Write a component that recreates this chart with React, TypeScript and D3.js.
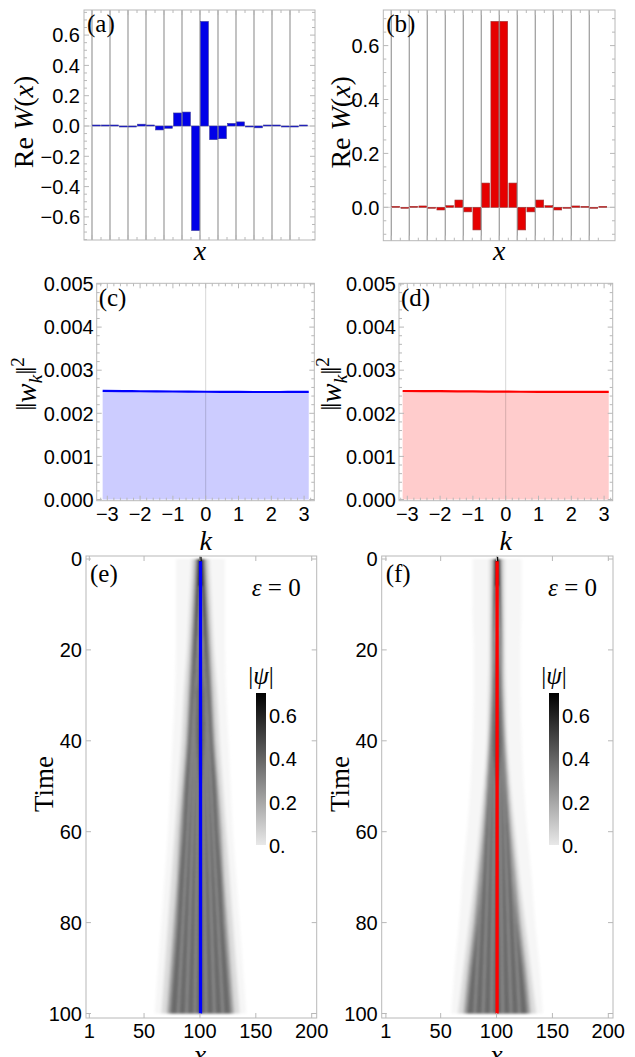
import React from 'react';
import * as d3 from 'd3';

const W = 635, H = 1057;

// (a),(b) Wannier function, one bar per site, first bar index = barStart (two sites per cell)
const barStart = -12;
const wannierA = [0, 0.001, 0.002, -0.005, -0.004, 0.012, 0.006, -0.026, -0.015, 0.086, 0.092, -0.69,
  0.69, -0.09, -0.084, 0.017, 0.027, -0.006, -0.012, 0.004, 0.005, -0.002, -0.003, 0.001];
const wannierB = [0, -0.001, 0.001, 0.005, -0.001, -0.01, 0.006, 0.027, -0.017, -0.084, 0.09, 0.69,
  0.69, 0.09, -0.084, -0.017, 0.027, 0.006, -0.01, -0.001, 0.005, 0.001, -0.001, 0];
const cellLines = [-12, -10, -8, -6, -4, -2, 0, 2, 4, 6, 8, 10];

// (c),(d) ||w_k||^2 over the Brillouin zone
const kSamples = [-3.1416, -2.5, -2, -1, 0, 1, 2, 2.5, 3.1416];
const normC = [0.002518, 0.002515, 0.002512, 0.002506, 0.0025, 0.002496, 0.002494, 0.002495, 0.002498];
const normD = [0.002517, 0.002516, 0.002514, 0.002508, 0.002502, 0.002498, 0.002496, 0.002496, 0.002498];

// (e),(f) |psi| spreading: half widths (in sites) of the grey bands at these times
const heatTimes = [0, 10, 20, 30, 40, 50, 60, 70, 80, 90, 100];
const hazeE = [22, 22, 22, 23, 25, 27, 29, 32, 35, 38, 41];
const lightE = [8, 10, 12, 15, 17, 20, 23, 26, 29, 32, 35];
const midE = [5, 7, 9, 11, 13, 16, 19, 21, 24, 27, 30];
const coreE = [3, 5, 7, 9, 11, 14, 16, 19, 21, 24, 27];
const hazeF = [22, 22, 21, 21, 22, 24, 27, 31, 34, 38, 41];
const lightF = [7, 7, 7, 8, 9, 12, 16, 20, 25, 30, 35];
const midF = [4, 4.5, 5, 5.5, 7, 10, 13, 17, 21, 26, 30];
const coreF = [3, 3.5, 4, 4.5, 6, 8, 11, 14, 18, 23, 27];
const innerTimes = [0, 10, 20, 30, 40, 50];
const innerE = [2.6, 3.4, 4.2, 4.6, 3.6, 0];
const innerF = [2.6, 3.0, 3.4, 3.8, 3.8, 0];
const rayOffsets = [-20, -12.5, -5, 5, 12.5, 20];
const centerSite = 100.5;
const psiMax = 0.7;
const colorTicks = [0, 0.2, 0.4, 0.6];

const tickFont = "'Liberation Sans', Arial, sans-serif";
const serif = "'Liberation Serif', 'Times New Roman', serif";
const frameCol = '#b8b8b8';
const tickSize = 20;

type Fr = { l: number; r: number; t: number; b: number };
const fA: Fr = { l: 84, r: 315, t: 10, b: 240 };
const fB: Fr = { l: 383.3, r: 615, t: 10, b: 240.7 };
const fC: Fr = { l: 96.7, r: 314.3, t: 283.3, b: 500.7 };
const fD: Fr = { l: 399, r: 612.7, t: 283.3, b: 500.7 };
const fE: Fr = { l: 86, r: 316.7, t: 556, b: 1018 };
const fF: Fr = { l: 381.7, r: 613, t: 556, b: 1018 };

const fmtMinus = (s: string) => s.replace('-', '\u2212');

function Ticks({ f, xs, ys, xMinor = [], yMinor = [] }: any) {
  const out: any[] = [];
  const M = 5, m = 3;
  xs.forEach((x: number, i: number) => {
    out.push(<line key={'xb' + i} x1={x} x2={x} y1={f.b} y2={f.b - M} />);
    out.push(<line key={'xt' + i} x1={x} x2={x} y1={f.t} y2={f.t + M} />);
  });
  xMinor.forEach((x: number, i: number) => {
    out.push(<line key={'xmb' + i} x1={x} x2={x} y1={f.b} y2={f.b - m} />);
    out.push(<line key={'xmt' + i} x1={x} x2={x} y1={f.t} y2={f.t + m} />);
  });
  ys.forEach((y: number, i: number) => {
    out.push(<line key={'yl' + i} x1={f.l} x2={f.l + M} y1={y} y2={y} />);
    out.push(<line key={'yr' + i} x1={f.r} x2={f.r - M} y1={y} y2={y} />);
  });
  yMinor.forEach((y: number, i: number) => {
    out.push(<line key={'yml' + i} x1={f.l} x2={f.l + m} y1={y} y2={y} />);
    out.push(<line key={'ymr' + i} x1={f.r} x2={f.r - m} y1={y} y2={y} />);
  });
  return (
    <g stroke={frameCol} strokeWidth={1}>
      {out}
      <rect x={f.l} y={f.t} width={f.r - f.l} height={f.b - f.t} fill="none" />
    </g>
  );
}

function BarPanel({ f, zeroX, zeroY, unitY, data, color, edge, yMajor, label, ylabX }: any) {
  const x = d3.scaleLinear().domain([0, 1]).range([zeroX, zeroX + 9]);
  const y = d3.scaleLinear().domain([0, 1]).range([zeroY, zeroY - unitY]);
  const [lo, hi] = [y.invert(f.b), y.invert(f.t)];
  const minor = d3.range(Math.ceil(lo / 0.05) * 0.05, hi, 0.05).filter((v) => Math.abs(Math.round(v / 0.2) * 0.2 - v) > 1e-6);
  const xMinor = d3.range(-13, 13).filter((v) => v % 2 !== 0).map(x).filter((p) => p > f.l && p < f.r);
  return (
    <g>
      {cellLines.map((c) => (
        <line key={c} x1={x(c)} x2={x(c)} y1={f.t} y2={f.b} stroke="#a2a2a2" strokeWidth={1.3} />
      ))}
      <line x1={f.l} x2={f.r} y1={y(0)} y2={y(0)} stroke="#d2d2d2" strokeWidth={1} />
      {data.map((v: number, i: number) => {
        const j = barStart + i;
        const x0 = x(j) + 0.6, x1 = x(j + 1) - 0.6;
        const h = Math.max(Math.abs(y(v) - y(0)), 1);
        return (
          <rect key={i} x={x0} width={x1 - x0} y={v >= 0 ? y(0) - h : y(0)} height={h}
            fill={color} stroke={edge} strokeWidth={0.6} />
        );
      })}
      <Ticks f={f} xs={cellLines.map(x)} ys={yMajor.map(y)} xMinor={xMinor} yMinor={minor.map(y)} />
      {yMajor.map((v: number) => (
        <text key={v} x={f.l - 4} y={y(v)} dy="0.36em" textAnchor="end" fontFamily={tickFont} fontSize={tickSize}>
          {fmtMinus(v.toFixed(1))}
        </text>
      ))}
      <text x={f.l + 3} y={f.t + 22} fontFamily={serif} fontSize={25}>{label}</text>
      <text transform={`translate(${ylabX},${(f.t + f.b) / 2 - 3}) rotate(-90)`} textAnchor="middle" fontFamily={serif} fontSize={28}>
        Re <tspan fontStyle="italic">W</tspan>(<tspan fontStyle="italic">x</tspan>)
      </text>
      <text x={zeroX} y={260} textAnchor="middle" fontFamily={serif} fontStyle="italic" fontSize={28}>x</text>
    </g>
  );
}

function NormPanel({ f, zeroX, data, line, fill, label, ylabX }: any) {
  const x = d3.scaleLinear().domain([0, 1]).range([zeroX, zeroX + 32.8]);
  const y = d3.scaleLinear().domain([0, 0.005]).range([499.5, 284]);
  const area = d3.area<number>().x((_, i) => x(kSamples[i])).y0(y(0)).y1((d) => y(d)).curve(d3.curveMonotoneX);
  const ln = d3.line<number>().x((_, i) => x(kSamples[i])).y((d) => y(d)).curve(d3.curveMonotoneX);
  const yMajor = d3.range(0, 0.0051, 0.001);
  const yMinor = d3.range(0, 0.005, 0.0002).filter((_, i) => i % 5 !== 0);
  const xMajor = d3.range(-3, 4, 1);
  const xMinor = d3.range(-3.2, 3.3, 0.2).filter((v) => Math.abs(v - Math.round(v)) > 1e-6);
  return (
    <g>
      <path d={area(data) || ''} fill={fill} />
      <line x1={x(0)} x2={x(0)} y1={f.t} y2={f.b} stroke="#000" strokeOpacity={0.16} strokeWidth={1} />
      <path d={ln(data) || ''} fill="none" stroke={line} strokeWidth={2.2} />
      <Ticks f={f} xs={xMajor.map(x)} ys={yMajor.map(y)} xMinor={xMinor.map(x)} yMinor={yMinor.map(y)} />
      {yMajor.map((v) => (
        <text key={v} x={f.l - 3} y={y(v)} dy="0.36em" textAnchor="end" fontFamily={tickFont} fontSize={tickSize}>
          {v.toFixed(3)}
        </text>
      ))}
      {xMajor.map((v) => (
        <text key={v} x={x(v)} y={f.b + 20} textAnchor="middle" fontFamily={tickFont} fontSize={tickSize}>
          {fmtMinus(String(v))}
        </text>
      ))}
      <text x={f.l + 2} y={f.t + 23} fontFamily={serif} fontSize={25}>{label}</text>
      <text transform={`translate(${ylabX},384) rotate(-90)`} textAnchor="middle" fontFamily={serif} fontSize={29}>
        {'\u2016'}<tspan fontStyle="italic">w</tspan><tspan fontStyle="italic" fontSize={19} dy={6}>k</tspan>
        <tspan dy={-6}>{'\u2016'}</tspan><tspan fontSize={19} dy={-12}>2</tspan>
      </text>
      <text x={x(0)} y={550} textAnchor="middle" fontFamily={serif} fontStyle="italic" fontSize={28}>k</text>
    </g>
  );
}

function HeatPanel({ f, x1px, layers, inner, lineColor, label, id, barX }: any) {
  const x = d3.scaleLinear().domain([1, 200]).range([x1px, x1px + 222.4]);
  const y = d3.scaleLinear().domain([0, 100]).range([559, 1013.5]);
  const band = (hw: number[], times: number[]) =>
    d3.area<number>().y((_, i) => y(times[i])).x0((d) => x(centerSite - d)).x1((d) => x(centerSite + d)).curve(d3.curveMonotoneY)(hw) || '';
  const grey = d3.scaleLinear<string>().domain([0, psiMax]).range(['#ffffff', '#000000']);
  const cb = d3.scaleLinear().domain([0, psiMax]).range([845, 693]);
  const yMajor = [0, 20, 40, 60, 80, 100];
  const xMajor = [1, 50, 100, 150, 200];
  return (
    <g>
      <defs>
        <clipPath id={'clip' + id}><rect x={f.l} y={f.t} width={f.r - f.l} height={f.b - f.t} /></clipPath>
        <filter id={'blur' + id} x="-20%" y="-5%" width="140%" height="110%">
          <feGaussianBlur stdDeviation="1.6 0.8" />
        </filter>
        <linearGradient id={'cb' + id} x1="0" y1="1" x2="0" y2="0">
          <stop offset="0" stopColor="#e8e8e8" />
          <stop offset="1" stopColor="#000" />
        </linearGradient>
      </defs>
      <g clipPath={`url(#clip${id})`}>
        <g filter={`url(#blur${id})`}>
          <path d={band(layers[0], heatTimes)} fill={grey(0.025)} />
          <path d={band(layers[1], heatTimes)} fill={grey(0.1)} />
          <path d={band(layers[2], heatTimes)} fill={grey(0.26)} />
          <path d={band(layers[3], heatTimes)} fill={grey(0.41)} />
          <path d={band(inner, innerTimes)} fill={grey(0.55)} />
          {rayOffsets.map((o) => (
            <line key={o} x1={x(centerSite)} y1={y(6)} x2={x(centerSite + o)} y2={y(100)}
              stroke={grey(0.2)} strokeWidth={1.3} strokeOpacity={0.75} />
          ))}
        </g>
        <rect x={x(99.5)} width={x(101.5) - x(99.5)} y={y(-0.5)} height={y(1) - y(-0.5)} fill={grey(psiMax)} />
        <line x1={x(centerSite)} x2={x(centerSite)} y1={y(0.5)} y2={y(100)} stroke={lineColor} strokeWidth={3.3} />
      </g>
      <Ticks f={f} xs={xMajor.map(x)} ys={yMajor.map(y)} />
      {yMajor.map((v) => (
        <text key={v} x={f.l - 4} y={y(v)} dy="0.36em" textAnchor="end" fontFamily={tickFont} fontSize={tickSize}>{v}</text>
      ))}
      {xMajor.map((v) => (
        <text key={v} x={x(v)} y={f.b + 20} textAnchor="middle" fontFamily={tickFont} fontSize={tickSize}>{v}</text>
      ))}
      <text x={f.l + 4} y={f.t + 26} fontFamily={serif} fontSize={25}>{label}</text>
      <text x={f.r - 16} y={f.t + 40} textAnchor="end" fontFamily={serif} fontSize={25}>
        <tspan fontStyle="italic">{'\u03b5'}</tspan> = 0
      </text>
      <rect x={barX} y={cb(psiMax)} width={10} height={cb(0) - cb(psiMax)} fill={`url(#cb${id})`} />
      {colorTicks.map((v) => (
        <text key={v} x={barX + 13} y={cb(v)} dy="0.4em" fontFamily={tickFont} fontSize={tickSize}>
          {v === 0 ? '0.' : v.toFixed(1)}
        </text>
      ))}
      <text x={barX + 5} y={684} textAnchor="middle" fontFamily={serif} fontSize={25}>
        |<tspan fontStyle="italic">{'\u03c8'}</tspan>|
      </text>
      <text x={x(100)} y={1064} textAnchor="middle" fontFamily={serif} fontStyle="italic" fontSize={28}>x</text>
    </g>
  );
}

export default function App() {
  return (
    <svg width={W} height={H} style={{ position: 'absolute', left: 0, top: 0, background: '#fff' }}>
      <BarPanel f={fA} zeroX={200} zeroY={126} unitY={151.5} data={wannierA} color="#0000e8" edge="#3a3a9a"
        yMajor={[-0.6, -0.4, -0.2, 0, 0.2, 0.4, 0.6]} label="(a)" ylabX={33} />
      <BarPanel f={fB} zeroX={499.3} zeroY={207.3} unitY={269.5} data={wannierB} color="#e60000" edge="#9a3a3a"
        yMajor={[0, 0.2, 0.4, 0.6]} label="(b)" ylabX={350} />
      <NormPanel f={fC} zeroX={205.7} data={normC} line="#0000ff" fill="#ccccff" label="(c)" ylabX={36} />
      <NormPanel f={fD} zeroX={505.7} data={normD} line="#ff0000" fill="#ffcccc" label="(d)" ylabX={341} />
      <text transform="translate(53,784) rotate(-90)" textAnchor="middle" fontFamily={serif} fontSize={27}>Time</text>
      <text transform="translate(349,784) rotate(-90)" textAnchor="middle" fontFamily={serif} fontSize={27}>Time</text>
      <HeatPanel f={fE} x1px={89.3} layers={[hazeE, lightE, midE, coreE]} inner={innerE} lineColor="#0000ff" label="(e)" id="e" barX={256} />
      <HeatPanel f={fF} x1px={385.9} layers={[hazeF, lightF, midF, coreF]} inner={innerF} lineColor="#ff0000" label="(f)" id="f" barX={549} />
    </svg>
  );
}
